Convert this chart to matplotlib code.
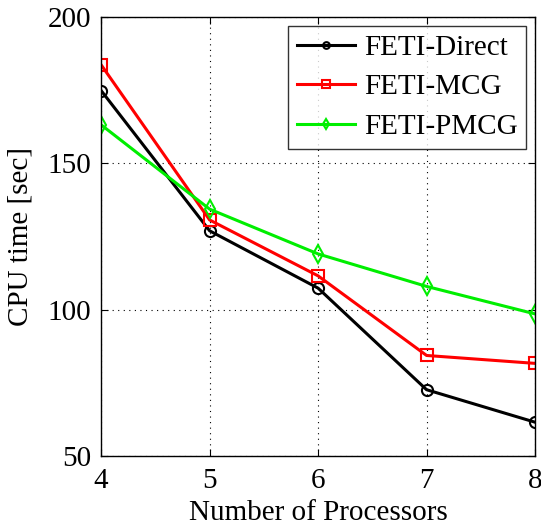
import matplotlib
matplotlib.use("Agg")
import matplotlib.pyplot as plt

plt.rcParams["font.family"] = ["Liberation Serif", "DejaVu Serif"]
plt.rcParams["mathtext.fontset"] = "stix"

procs = [4, 5, 6, 7, 8]
feti_direct = [174.8, 126.9, 107.3, 72.6, 61.5]
feti_mcg = [183.6, 130.6, 111.5, 84.3, 81.6]
feti_pmcg = [163.1, 134.3, 119.0, 107.9, 98.5]

fig = plt.figure(figsize=(5.41, 5.27), dpi=100)
ax = fig.add_axes([0.187, 0.135, 0.802, 0.833])

ax.plot(procs, feti_direct, color="black", lw=2.2, marker="o", ms=8,
        mfc="none", mew=1.5, label="FETI-Direct")
ax.plot(procs, feti_mcg, color="red", lw=2.2, marker="s", ms=9,
        mfc="none", mew=1.5, label="FETI-MCG")
ax.plot(procs, feti_pmcg, color="#00ee00", lw=2.2, marker="d", ms=9,
        mfc="none", mew=1.5, label="FETI-PMCG")

ax.set_xlim(4, 8)
ax.set_ylim(50, 200)
ax.set_xticks([4, 5, 6, 7, 8])
ax.set_yticks([50, 100, 150, 200])
ax.grid(True, color="black", linestyle=(0, (1, 4)), linewidth=0.8)
ax.tick_params(direction="in", top=True, right=True, labelsize=21, length=5)
ax.tick_params(axis="x", pad=9)
ax.tick_params(axis="y", pad=7)
for s in ax.spines.values():
    s.set_linewidth(1)

ax.set_xlabel("Number of Processors", fontsize=21, labelpad=4)
ax.set_ylabel("CPU time [sec]", fontsize=21, labelpad=10)

leg = ax.legend(loc="upper right", fontsize=21, handlelength=2.0,
                markerscale=0.6, fancybox=False, edgecolor="black",
                borderpad=0.3, labelspacing=0.45, handletextpad=0.3,
                borderaxespad=0.3)
leg.get_frame().set_linewidth(1)

fig.savefig("out.png", dpi=100)
